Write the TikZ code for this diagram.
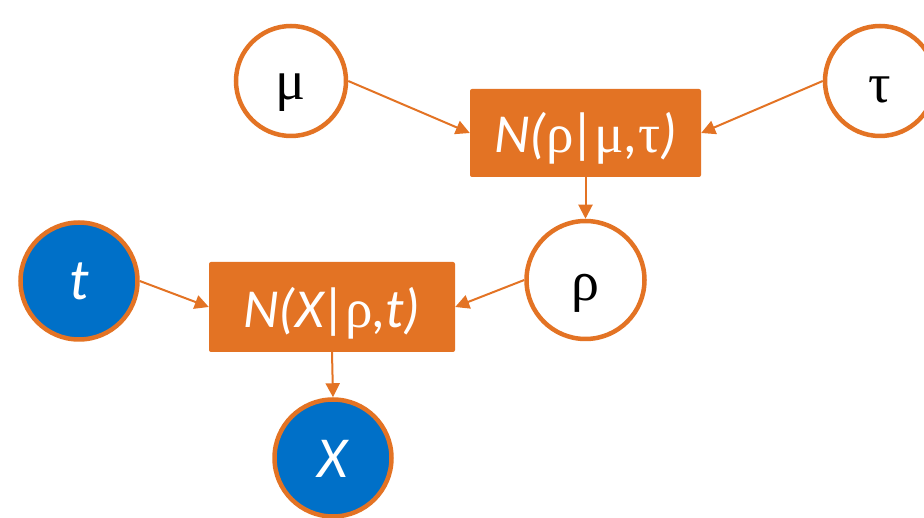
\documentclass[tikz,border=0pt]{standalone}
\usepackage{fontspec}
\setmainfont{Carlito}
\newfontfamily\gkfont{Liberation Serif}
\usetikzlibrary{arrows.meta}
\definecolor{gmorange}{HTML}{E37324}
\definecolor{gmblue}{HTML}{0070C8}
\newcommand{\gk}[1]{{\gkfont #1}}
\newcommand{\lowered}[2]{\raisebox{-#1}[0pt][0pt]{#2}}
\tikzset{
  varnode/.style={circle, draw=gmorange, line width=4.5pt, fill=white, inner sep=0pt,
    font=\fontsize{56}{60}\selectfont},
  obsnode/.style={varnode, fill=gmblue, text=white, font=\fontsize{58}{62}\selectfont},
  factorbox/.style={rectangle, fill=gmorange, rounded corners=2pt, text=white, inner sep=0pt,
    font=\fontsize{55}{60}\selectfont},
  edge/.style={draw=gmorange, line width=2pt, -{Triangle[length=14pt,width=14pt]}}
}
\begin{document}
\begin{tikzpicture}[x=1pt,y=-1pt]
\useasboundingbox (0,0) rectangle (924,518);
\node[varnode, minimum size=110pt] (mu) at (291,81) {\lowered{19pt}{\gk{μ}}};
\node[varnode, minimum size=110pt] (tau) at (880,81) {\lowered{22pt}{\gk{τ}}};
\node[factorbox, minimum width=231pt, minimum height=88pt] (f1) at (585.5,133) {\lowered{20pt}{\itshape N(\gk{\upshape ρ}\kern-2pt|\kern-2pt\gk{\upshape μ},\gk{\upshape τ})}};
\node[varnode, minimum size=118pt] (rho) at (585.5,280) {\lowered{21pt}{\gk{ρ}}};
\node[obsnode, minimum size=117pt] (t) at (79,281) {\lowered{19pt}{\itshape t}};
\node[factorbox, minimum width=246pt, minimum height=90pt] (f2) at (332,307) {\lowered{21pt}{\itshape N(X\kern-2pt|\kern-2pt\gk{\upshape ρ},t)}};
\node[obsnode, minimum size=117pt] (x) at (333,458) {\lowered{20pt}{\itshape X}};
\draw[edge] (mu.east) -- (f1.west);
\draw[edge] (tau.west) -- (f1.east);
\draw[edge] (f1.south) -- (rho.north);
\draw[edge] (t.east) -- (f2.west);
\draw[edge] (rho.west) -- (f2.east);
\draw[edge] (f2.south) -- (x.north);
\end{tikzpicture}
\end{document}
